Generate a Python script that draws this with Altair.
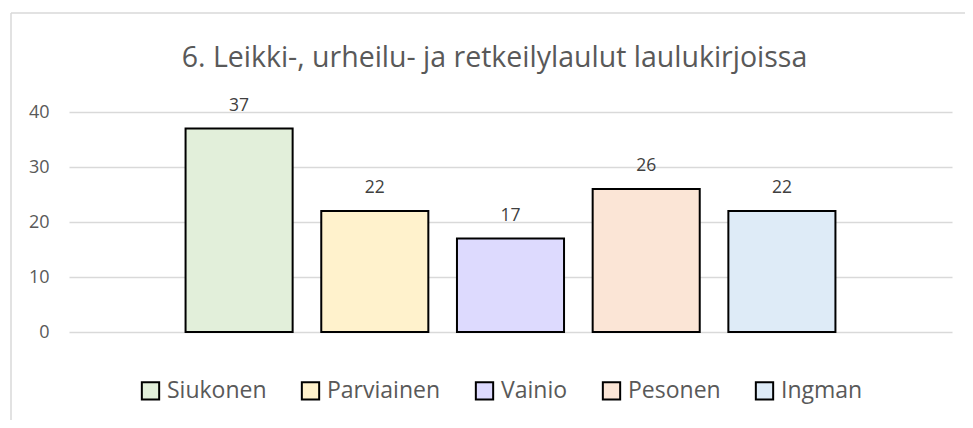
import altair as alt
import pandas as pd

names = ["Siukonen", "Parviainen", "Vainio", "Pesonen", "Ingman"]
values = [37, 22, 17, 26, 22]
colors = ["#E2EFDA", "#FFF2CC", "#DDDAFE", "#FBE5D6", "#DEEBF7"]
y_ticks = [0, 10, 20, 30, 40]
title_text = "6. Leikki-, urheilu- ja retkeilylaulut laulukirjoissa"

FONT = "Open Sans"
df = pd.DataFrame({"name": names, "value": values})

x_enc = alt.X("name:N", sort=names, axis=None,
              scale=alt.Scale(domain=names, paddingInner=0.211, paddingOuter=0.859))
y_enc = alt.Y("value:Q",
              scale=alt.Scale(domain=[0, 40], nice=False, zero=True),
              axis=alt.Axis(values=y_ticks, title=None, domain=False, ticks=False,
                            labelPadding=20, labelFontSize=18, labelColor="#595959",
                            labelFont=FONT, gridColor="#D9D9D9", gridWidth=1.3))

bars = alt.Chart(df).mark_bar(stroke="black", strokeWidth=2).encode(
    x=x_enc, y=y_enc,
    fill=alt.Fill("name:N", sort=names,
                  scale=alt.Scale(domain=names, range=colors),
                  legend=alt.Legend(title=None, orient="none", direction="horizontal",
                                    columns=5, legendX=70, legendY=267,
                                    symbolType="square", symbolSize=300,
                                    symbolStrokeColor="black", symbolStrokeWidth=2,
                                    symbolOpacity=1,
                                    labelFont=FONT, labelFontSize=23,
                                    labelColor="#595959", labelOffset=5,
                                    columnPadding=30, labelLimit=400, padding=0)),
)

labels = alt.Chart(df).mark_text(dy=-18, baseline="alphabetic", font=FONT,
                                 fontSize=17.5, color="#404040").encode(
    x=x_enc, y=alt.Y("value:Q"), text=alt.Text("value:Q"))

one_row = pd.DataFrame({"title": [title_text]})
title_mark = alt.Chart(one_row).mark_text(
    font=FONT, fontSize=28.5, color="#595959", align="center", baseline="alphabetic"
).encode(x=alt.value(425.5), y=alt.value(-45), text="title:N")

top_line = alt.Chart(one_row).mark_rule(color="#D9D9D9", strokeWidth=1.5).encode(
    x=alt.value(-58), x2=alt.value(920), y=alt.value(-99))
left_line = alt.Chart(one_row).mark_rule(color="#D9D9D9", strokeWidth=1.5).encode(
    x=alt.value(-58), y=alt.value(-99), y2=alt.value(400))

chart = alt.layer(top_line, left_line, title_mark, bars, labels).properties(
    width=883, height=220,
    autosize=alt.AutoSizeParams(type="none"),
    padding={"left": 61, "top": 104, "right": 13, "bottom": 88},
).configure(background="white").configure_view(stroke=None, strokeWidth=0)

chart.save("out.html", embed_options={"renderer": "svg", "actions": False})
